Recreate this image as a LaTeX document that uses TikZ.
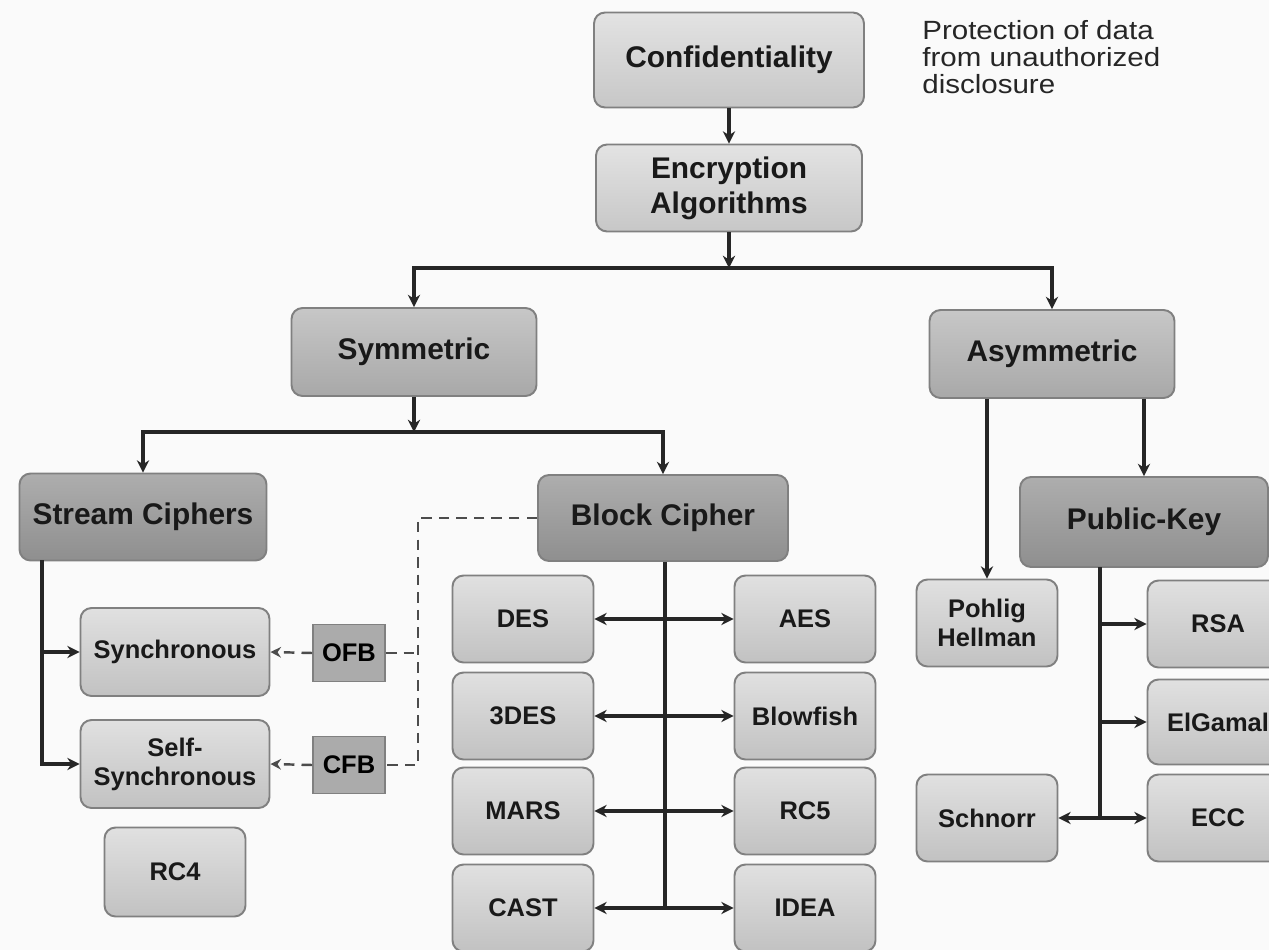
\documentclass[tikz,border=0pt]{standalone}
\usepackage{fontspec}
\setmainfont{Liberation Sans}
\newfontfamily\NoteFont[FakeStretch=1.12]{Liberation Sans}
\usetikzlibrary{arrows.meta,calc}
\newcommand\BigLbl{\bfseries\fontsize{17}{20}\selectfont}
\newcommand\SmallLbl{\bfseries\fontsize{14.5}{16.5}\selectfont}
\begin{document}
\begin{tikzpicture}[x=0.02cm,y=-0.02cm,
  base/.style={draw=black!50, line width=1.1pt, rounded corners=0.22cm, align=center,
    inner sep=2pt, text=black!90},
  lbox/.style={base, top color=black!11, bottom color=black!22, font=\BigLbl},
  mbox/.style={base, top color=black!22, bottom color=black!34, font=\BigLbl,
    minimum width=4.9cm, minimum height=1.76cm},
  dbox/.style={base, top color=black!32, bottom color=black!44, font=\BigLbl,
    minimum height=1.74cm},
  sbox/.style={base, top color=black!12, bottom color=black!24, font=\SmallLbl,
    minimum width=2.82cm, minimum height=1.74cm},
  modebox/.style={draw=black!50, line width=1.1pt, fill=black!33, font=\SmallLbl,
    minimum width=1.44cm, minimum height=1.14cm, inner sep=1pt},
  arr/.style={-{Stealth[length=7pt,width=7pt]}, line width=1.8pt, black!85},
  arrtwo/.style={{Stealth[length=7pt,width=7pt]}-{Stealth[length=7pt,width=7pt]}, line width=1.8pt, black!85},
  ln/.style={line width=1.8pt, black!85},
  dsh/.style={dashed, dash pattern=on 6pt off 4pt, line width=1.4pt, black!70},
  dsharr/.style={dsh, -{Stealth[length=6pt,width=6pt]}},
]
\useasboundingbox[fill=black!2] (0,0) rectangle (1269,950);

% top
\node[lbox, minimum width=5.4cm, minimum height=1.9cm] (conf) at (729,60) {Confidentiality};
\node[anchor=north west, align=left, inner sep=0pt, text=black!85,
  font=\NoteFont\fontsize{15}{15.5}\selectfont] (note) at (922,20) {Protection of data\\from unauthorized\\disclosure};
\node[lbox, minimum width=5.32cm, minimum height=1.74cm] (enc) at (729,188) {Encryption\\Algorithms};

\node[mbox] (sym) at (414,352) {Symmetric};
\node[mbox] (asym) at (1052,354) {Asymmetric};

\node[dbox, minimum width=4.94cm] (stream) at (143,517) {Stream Ciphers};
\node[dbox, minimum width=5.0cm, minimum height=1.72cm] (block) at (663,518) {Block Cipher};
\node[dbox, minimum width=4.96cm, minimum height=1.8cm] (pk) at (1144,522) {Public-Key};

% stream ciphers
\node[sbox, minimum width=3.78cm, minimum height=1.76cm] (sync) at (175,652) {Synchronous};
\node[sbox, minimum width=3.78cm, minimum height=1.76cm] (ssync) at (175,764) {Self-\\Synchronous};
\node[sbox, minimum height=1.78cm] (rc4) at (175,872) {RC4};
\node[modebox] (ofb) at (349,653) {OFB};
\node[modebox] (cfb) at (349,765) {CFB};

% block ciphers
\node[sbox] (des) at (523,619) {DES};
\node[sbox] (aes) at (805,619) {AES};
\node[sbox] (tdes) at (523,716) {3DES};
\node[sbox] (blow) at (805,716) {Blowfish};
\node[sbox] (mars) at (523,811) {MARS};
\node[sbox] (rcf) at (805,811) {RC5};
\node[sbox] (cast) at (523,908) {CAST};
\node[sbox] (idea) at (805,908) {IDEA};

% asymmetric
\node[sbox] (pohlig) at (987,623) {Pohlig\\Hellman};
\node[sbox] (schnorr) at (987,818) {Schnorr};
\node[sbox] (rsa) at (1218,624) {RSA};
\node[sbox, minimum height=1.7cm] (elg) at (1218,722) {ElGamal};
\node[sbox] (ecc) at (1218,818) {ECC};

% coordinates
\coordinate (j1) at (729,268);
\coordinate (j2) at (414,432);
\coordinate (sx) at (42,560);
\coordinate (d1) at (418,518);
\coordinate (d2) at (418,765);
\coordinate (d3) at (418,653);
\coordinate (bj) at (665,908);
\coordinate (pv) at (1100,567);
\coordinate (pb) at (1100,818);

% connectors
\draw[arr] (conf) -- (enc);
\draw[arr] (enc) -- (j1);
\draw[arr] (j1) -| (sym);
\draw[arr] (j1) -| (asym);
\draw[arr] (sym) -- (j2);
\draw[arr] (j2) -| (stream);
\draw[arr] (j2) -| (block);

\draw[arr] (sx) |- (sync.west);
\draw[arr] (sx) |- (ssync.west);

\draw[dsh] (block.west) -- (d1) -- (d2) -- (cfb.east);
\draw[dsh] (ofb.east) -- (d3);
\draw[dsharr] (ofb.west) -- (sync.east);
\draw[dsharr] (cfb.west) -- (ssync.east);

\draw[ln] (block.south -| bj) -- (bj);
\draw[arrtwo] (des) -- (aes);
\draw[arrtwo] (tdes) -- (blow);
\draw[arrtwo] (mars) -- (rcf);
\draw[arrtwo] (cast) -- (idea);

\draw[arr] (asym.south -| pohlig) -- (pohlig.north);
\draw[arr] (asym.south -| pk) -- (pk.north);
\draw[ln] (pv) -- (pb);
\draw[arr] (pb |- rsa) -- (rsa.west);
\draw[arr] (pb |- elg) -- (elg.west);
\draw[arrtwo] (schnorr) -- (ecc);
\end{tikzpicture}
\end{document}
